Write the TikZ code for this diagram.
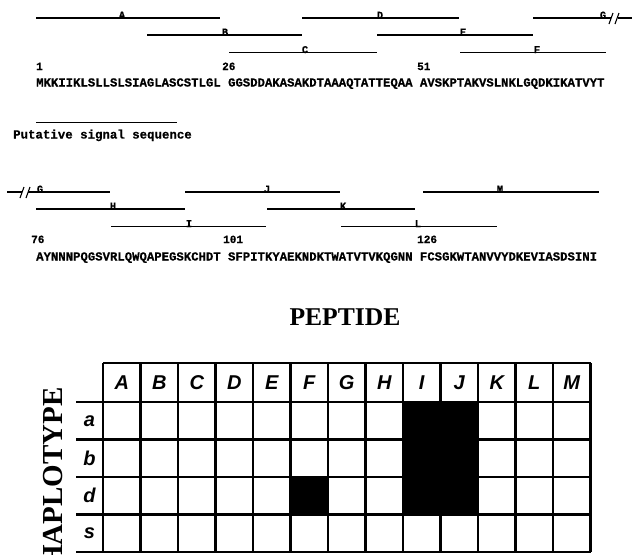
\documentclass[tikz,border=0pt]{standalone}
\usepackage{fontspec}
\setmainfont{Liberation Serif}
\newfontfamily\seqfont{Liberation Mono}[BoldFeatures={FakeBold=0.6}]
\newfontfamily\cellfont{Liberation Sans}
\usetikzlibrary{positioning}
\tikzset{%
  % sequence part
  seg/.style={line width=1.1pt},
  seglabel/.style={anchor=base, inner sep=0pt, font=\seqfont\bfseries\fontsize{10.5}{12}\selectfont},
  seqtext/.style={anchor=base west, inner sep=0pt, font=\seqfont\bfseries\fontsize{12.3}{14}\selectfont},
  resnum/.style={anchor=base west, inner sep=0pt, font=\seqfont\bfseries\fontsize{11}{13}\selectfont},
  % table part
  grid/.style={line width=2.6pt},
  cell/.style={inner sep=0pt, font=\cellfont\bfseries\itshape\fontsize{20}{22}\selectfont},
  title/.style={inner sep=0pt, font=\bfseries\fontsize{25.6}{28}\selectfont},
}
% #1 = name, #2 = from, #3 = to, #4 = y, #5 = label x, #6 = label
\newcommand{\pepline}[6]{%
  \draw[seg] (#2,#4) -- (#3,#4);
  \node[seglabel] (#1) at (#5,#4+0.6) {#6};
}

\begin{document}
\begin{tikzpicture}[x=1pt, y=-1pt]
  \useasboundingbox (0,0) rectangle (633,555);

  % First block
  \pepline{pA}{36}{220}{18}{122}{A}
  \pepline{pD}{302}{459}{18}{380}{D}
  \pepline{pG}{533}{611}{18}{603}{G}
  \draw[seg] (609,24) -- (613,13);
  \draw[seg] (615,24) -- (619,13);
  \draw[seg] (618,18) -- (632,18);
  \pepline{pB}{147}{302}{35}{225}{B}
  \pepline{pE}{377}{533}{35}{463}{E}
  \pepline{pC}{229}{377}{52.5}{305}{C}
  \pepline{pF}{460}{606}{52.5}{537}{F}

  \node[resnum] (n1) at (36,70) {1};
  \node[resnum] (n26) at (222,70) {26};
  \node[resnum] (n51) at (417,70) {51};
  \node[seqtext] (seq1) at (36,86.5) {MKKIIKLSLLSLSIAGLASCSTLGL GGSDDAKASAKDTAAAQTATTEQAA AVSKPTAKVSLNKLGQDKIKATVYT};

  \draw[seg] (36,122.5) -- (177,122.5);
  \node[seqtext, font=\seqfont\bfseries\fontsize{12.4}{14}\selectfont] (signal) at (13,138.5) {Putative signal sequence};

  % Second block
  \draw[seg] (7,192) -- (22,192);
  \draw[seg] (20,198) -- (24,187);
  \draw[seg] (26,198) -- (30,187);
  \pepline{pG2}{28}{110}{192}{40}{G}
  \pepline{pJ}{185}{340}{192}{267}{J}
  \pepline{pM}{423}{599}{192}{500}{M}
  \pepline{pH}{36}{185}{209}{113}{H}
  \pepline{pK}{267}{415}{209}{343}{K}
  \pepline{pI}{111}{266}{226.5}{189}{I}
  \pepline{pL}{341}{497}{226.5}{418}{L}

  \node[resnum] (n76) at (31,243) {76};
  \node[resnum] (n101) at (223,243) {101};
  \node[resnum] (n126) at (417,243) {126};
  \node[seqtext] (seq2) at (36,260.5) {AYNNNPQGSVRLQWQAPEGSKCHDT SFPITKYAEKNDKTWATVTVKQGNN FCSGKWTANVVYDKEVIASDSINI};

  % Peptide / haplotype table
  \node[title] (peptide) at (345,317) {PEPTIDE};
  \node[title, font=\bfseries\fontsize{29}{32}\selectfont, rotate=90, anchor=east] (haplo) at (53,387) {HAPLOTYPE};

  \fill (403,402) rectangle (478,514.5);
  \fill (290.5,477) rectangle (328,514.5);

  \draw[grid] (103,363) -- (590.5,363);
  \foreach \k in {0,...,4}
    \draw[grid] (76,402+37.5*\k) -- (590.5,402+37.5*\k);
  \foreach \k in {0,...,13}
    \draw[grid] (103+37.5*\k,363) -- (103+37.5*\k,552);

  \foreach \l [count=\i from 0] in {A,B,C,D,E,F,G,H,I,J,K,L,M}
    \node[cell] (col\l) at (121.75+37.5*\i,383) {\l};
  \foreach \r [count=\j from 0] in {a,b,d,s}
    \node[cell] (row\r) at (89.5,420.75+37.5*\j) {\r};
\end{tikzpicture}
\end{document}
